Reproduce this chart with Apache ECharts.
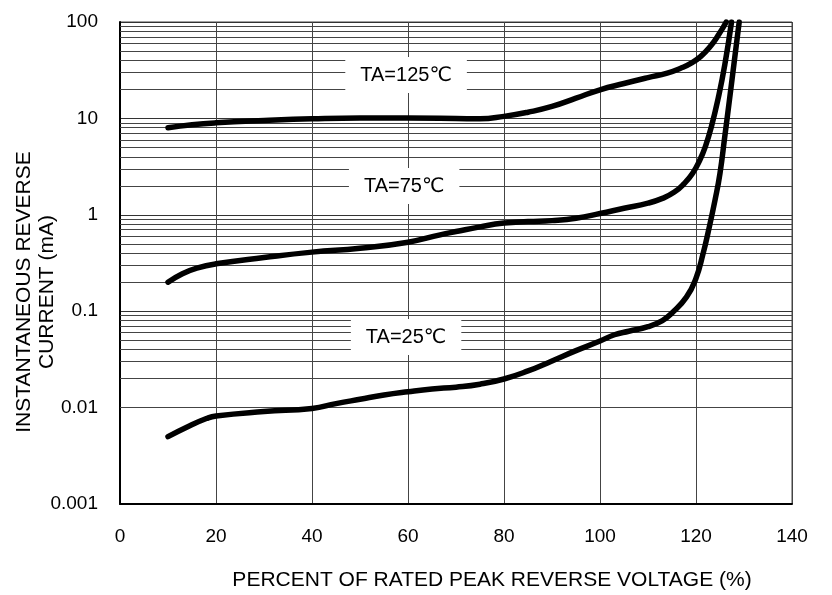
<!DOCTYPE html>
<html>
<head>
<meta charset="utf-8">
<script src="https://cdn.jsdelivr.net/npm/echarts@6/dist/echarts.min.js"></script>
<style>
html,body{margin:0;padding:0;background:#fff;}
#chart{width:832px;height:595px;}
</style>
</head>
<body>
<div id="chart"></div>
<script>
// X tick labels (percent) and Y decades
var xTicks = [0, 20, 40, 60, 80, 100, 120, 140];
var yDecades = [0.001, 0.01, 0.1, 1, 10, 100];
var minorMultipliers = [2, 3, 4, 5, 6, 7, 8, 9];

// Curves: [percent of rated peak reverse voltage, current mA]
var ta125 = [[10, 8.0], [15, 8.6], [20, 9.0], [30, 9.5], [40, 9.9], [50, 10.1], [60, 10.1], [70, 10.0], [75, 9.9], [80, 10.5], [85, 11.6], [90, 13.3], [95, 16.2], [100, 19.8], [105, 23], [110, 26.5], [114, 29.5], [117, 33.5], [119, 37.5], [121, 44], [123, 56], [124.8, 75], [126.3, 100]];
var ta75 = [[10, 0.2], [13, 0.245], [16, 0.28], [20, 0.31], [30, 0.36], [40, 0.41], [50, 0.45], [60, 0.52], [66.7, 0.62], [70, 0.67], [75, 0.75], [80, 0.82], [85, 0.85], [90, 0.87], [95, 0.92], [100, 1.03], [105, 1.17], [110, 1.32], [113, 1.48], [115.5, 1.72], [117.5, 2.1], [119.3, 2.7], [120.8, 3.7], [122, 5.2], [123.2, 8.2], [124.6, 16], [126, 36], [127.4, 100]];
var ta25 = [[10, 0.005], [14, 0.0063], [18, 0.0077], [20, 0.0082], [30, 0.0091], [40, 0.0098], [45, 0.011], [50, 0.0122], [55, 0.0135], [60, 0.0146], [65, 0.0156], [70, 0.0163], [75, 0.0175], [80, 0.0198], [85, 0.024], [90, 0.0305], [95, 0.039], [100, 0.049], [103, 0.057], [106, 0.062], [110, 0.069], [113, 0.08], [115, 0.096], [118, 0.14], [120, 0.22], [121.5, 0.4], [122.5, 0.65], [124, 1.45], [125, 2.7], [126, 6.5], [127, 16], [128, 40], [129, 100]];

var seriesLabels = ['TA=125\u2103', 'TA=75\u2103', 'TA=25\u2103'];
var labelAnchors = [[59.6, 28.2], [59.2, 1.99], [59.6, 0.054]];

var FONT = '"Liberation Sans", Arial, "DejaVu Sans", sans-serif';

var minorGrid = [];
yDecades.slice(0, -1).forEach(function (d) {
  minorMultipliers.forEach(function (m) { minorGrid.push({ yAxis: d * m }); });
});

function curve(data, idx) {
  return {
    type: 'line',
    data: data,
    smooth: 0.5,
    showSymbol: false,
    symbol: 'none',
    z: 5,
    lineStyle: { color: '#000', width: 5.5, cap: 'round', join: 'round' },
    markPoint: {
      symbol: 'rect',
      symbolSize: [1, 1],
      itemStyle: { color: 'rgba(0,0,0,0)' },
      z: 6,
      data: [{
        coord: labelAnchors[idx],
        value: seriesLabels[idx],
        label: {
          show: true,
          position: 'inside',
          formatter: seriesLabels[idx],
          color: '#000',
          fontFamily: FONT,
          fontSize: 20,
          backgroundColor: '#fff',
          padding: [8, 15]
        }
      }]
    }
  };
}

var chart = echarts.init(document.getElementById('chart'), null, { renderer: 'canvas' });
chart.setOption({
  backgroundColor: '#fff',
  animation: false,
  grid: { left: 120, right: 40, top: 22, bottom: 91 },
  xAxis: {
    type: 'value',
    min: 0, max: 140, interval: 20,
    axisLine: { show: true, lineStyle: { color: '#000', width: 2 } },
    axisTick: { show: false },
    axisLabel: { color: '#000', fontSize: 19, fontFamily: FONT, margin: 23,
      formatter: function (v) { return xTicks.indexOf(v) >= 0 ? String(v) : ''; } },
    splitLine: { show: true, lineStyle: { color: '#444', width: 1 } }
  },
  yAxis: {
    type: 'log', logBase: 10,
    min: 0.001, max: 100,
    axisLine: { show: true, lineStyle: { color: '#000', width: 2 } },
    axisTick: { show: false },
    axisLabel: { color: '#000', fontSize: 19, fontFamily: FONT, margin: 22,
      formatter: function (v) {
        var best = yDecades.reduce(function (a, b) { return Math.abs(Math.log10(b) - Math.log10(v)) < Math.abs(Math.log10(a) - Math.log10(v)) ? b : a; });
        return String(best);
      } },
    splitLine: { show: true, lineStyle: { color: '#333', width: 1 } }
  },
  graphic: [
    {
      type: 'text',
      x: 492, y: 580,
      style: { text: 'PERCENT OF RATED PEAK REVERSE VOLTAGE (%)', fill: '#000', font: '21px ' + FONT, textAlign: 'center', textVerticalAlign: 'middle' }
    },
    {
      type: 'text',
      x: 36, y: 292,
      rotation: Math.PI / 2,
      style: { text: 'INSTANTANEOUS REVERSE\nCURRENT (mA)', fill: '#000', font: '21px ' + FONT, textAlign: 'center', textVerticalAlign: 'middle', lineHeight: 23 }
    },
    {
      type: 'rect', shape: { x: 120, y: 22, width: 672, height: 482 },
      style: { fill: 'none', stroke: '#444', lineWidth: 1 }, z: 0, silent: true
    }
  ],
  series: [
    {
      type: 'line', data: [], z: 1, silent: true,
      markLine: {
        silent: true, symbol: ['none', 'none'], animation: false,
        label: { show: false },
        lineStyle: { color: '#444', width: 1, type: 'solid' },
        data: minorGrid
      }
    },
    curve(ta125, 0),
    curve(ta75, 1),
    curve(ta25, 2)
  ]
});
</script>
</body>
</html>
